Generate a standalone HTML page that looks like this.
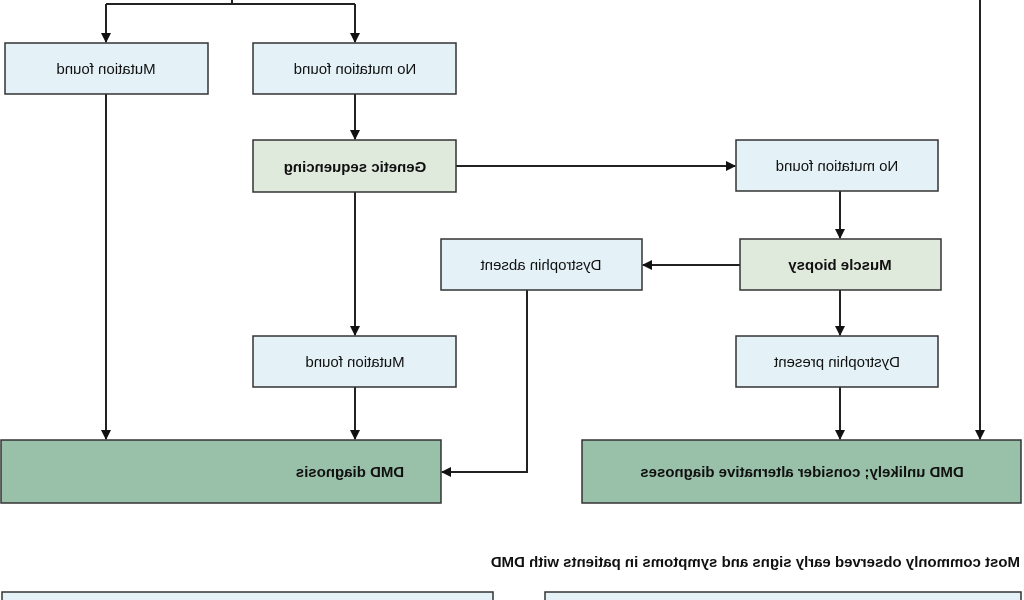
<!DOCTYPE html>
<html><head><meta charset="utf-8"><style>
html,body{margin:0;padding:0;background:#fff;width:1024px;height:600px;overflow:hidden}
svg text{font-family:"Liberation Sans",sans-serif;font-size:15px;fill:#111}
</style></head><body>
<svg width="1024" height="600" viewBox="0 0 1024 600" xmlns="http://www.w3.org/2000/svg">
<defs><marker id="a" markerWidth="10" markerHeight="10" refX="9" refY="5" orient="auto" markerUnits="userSpaceOnUse"><path d="M0,0 L10,5 L0,10 z" fill="#111"/></marker></defs>
<g stroke="#222" stroke-width="2" fill="none">
<path d="M232,0 V4"/><path d="M106,4 H355"/>
<path d="M106,4 V42" marker-end="url(#a)"/>
<path d="M355,4 V42" marker-end="url(#a)"/>
<path d="M980,0 V439" marker-end="url(#a)"/>
<path d="M106,94 V439" marker-end="url(#a)"/>
<path d="M355,94 V139" marker-end="url(#a)"/>
<path d="M456,166 H735" marker-end="url(#a)"/>
<path d="M840,191 V238" marker-end="url(#a)"/>
<path d="M740,265 H643" marker-end="url(#a)"/>
<path d="M355,192 V335" marker-end="url(#a)"/>
<path d="M840,290 V335" marker-end="url(#a)"/>
<path d="M355,387 V439" marker-end="url(#a)"/>
<path d="M840,387 V439" marker-end="url(#a)"/>
<path d="M527,290 V472 H442" marker-end="url(#a)"/>
</g>
<g stroke="#333" stroke-width="1.5">
<rect x="5" y="43" width="203" height="51" fill="#e4f2f8"/>
<rect x="253" y="43" width="203" height="51" fill="#e4f2f8"/>
<rect x="253" y="140" width="203" height="52" fill="#dfe9dc"/>
<rect x="736" y="140" width="202" height="51" fill="#e4f2f8"/>
<rect x="740" y="239" width="201" height="51" fill="#dfe9dc"/>
<rect x="441" y="239" width="201" height="51" fill="#e4f2f8"/>
<rect x="253" y="336" width="203" height="51" fill="#e4f2f8"/>
<rect x="736" y="336" width="202" height="51" fill="#e4f2f8"/>
<rect x="1" y="440" width="440" height="63" fill="#99c1a9"/>
<rect x="582" y="440" width="439" height="63" fill="#99c1a9"/>
<rect x="2" y="592" width="491" height="20" fill="#e4f2f8"/>
<rect x="545" y="592" width="476" height="20" fill="#e4f2f8"/>
</g>
<g text-anchor="middle">
<text transform="translate(106,74) scale(-1,1)">Mutation found</text>
<text transform="translate(355,74) scale(-1,1)">No mutation found</text>
<text transform="translate(355,172) scale(-1,1)" font-weight="bold">Genetic sequencing</text>
<text transform="translate(837,171) scale(-1,1)">No mutation found</text>
<text transform="translate(840,270) scale(-1,1)" font-weight="bold">Muscle biopsy</text>
<text transform="translate(541,270) scale(-1,1)">Dystrophin absent</text>
<text transform="translate(355,367) scale(-1,1)">Mutation found</text>
<text transform="translate(837,367) scale(-1,1)">Dystrophin present</text>
<text transform="translate(350,477) scale(-1,1)" font-weight="bold">DMD diagnosis</text>
<text transform="translate(802,477) scale(-1,1)" font-weight="bold">DMD unlikely; consider alternative diagnoses</text>
</g>
<text transform="translate(1020,567) scale(-1,1)" font-weight="bold" font-size="14.5">Most commonly observed early signs and symptoms in patients with DMD</text>
</svg>
</body></html>
